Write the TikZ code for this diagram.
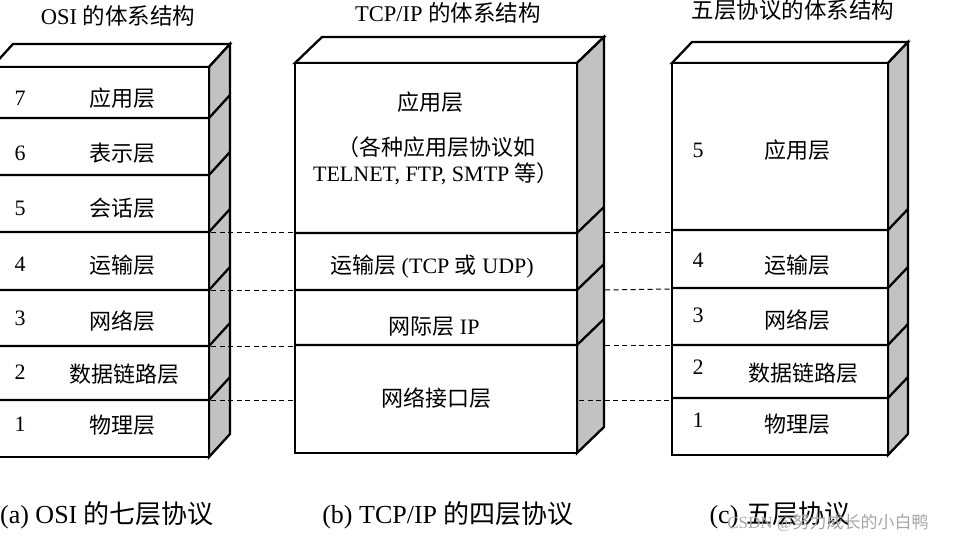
\documentclass[tikz,border=0pt]{standalone}
\usepackage{fontspec}
\setmainfont{Liberation Serif}
\newfontfamily\cjk{Noto Sans CJK SC}
\newcommand{\zh}[1]{{\cjk #1}}
% L R dx dy top bottom {boundaries}
\newcommand{\layerstack}[7]{%
  \filldraw[stackline, fill=white] (#1,#5) -- (#1+#3,#5-#4) -- (#2+#3,#5-#4) -- (#2,#5) -- cycle;
  \filldraw[stackline, fill=sidegray] (#2,#5) -- (#2+#3,#5-#4) -- (#2+#3,#6-#4) -- (#2,#6) -- cycle;
  \filldraw[stackline, fill=white] (#1,#5) rectangle (#2,#6);
  \foreach \yy in {#7} {\draw[stackline] (#1,\yy) -- (#2,\yy) -- (#2+#3,\yy-#4);}
}
\definecolor{sidegray}{gray}{0.76}
\begin{document}
\begin{tikzpicture}[x=1pt,y=-1pt,
  stackline/.style={line width=2.3pt, line join=miter},
  dashline/.style={line width=1pt, dash pattern=on 5pt off 3.5pt},
  lab/.style={font=\fontsize{22}{25}\selectfont, inner sep=0pt},
  ttl/.style={font=\fontsize{22.5}{25}\selectfont, inner sep=0pt},
  captxt/.style={font=\fontsize{26}{29}\selectfont, inner sep=0pt},
  wm/.style={font=\fontsize{17}{20}\selectfont, text=gray!70, inner sep=0pt}]
\useasboundingbox (0,0) rectangle (958,543);
\clip (0,0) rectangle (958,543);

% titles
\node[ttl] (t1) at (118,16) {OSI \zh{的体系结构}};
\node[ttl] (t2) at (448,13) {TCP/IP \zh{的体系结构}};
\node[ttl] (t3) at (793,10) {\zh{五层协议的体系结构}};

% stacks
\layerstack{-8}{209}{21}{23}{67}{457}{118,175,232,290,346,400}
\layerstack{295}{577}{27}{26}{63}{453}{233,290,345}
\layerstack{672}{888}{20}{21}{63}{455}{230,288,345,398}

% dashed connectors
\coordinate (a4) at (211,232); \coordinate (b4l) at (295,232);
\coordinate (a3) at (211,290); \coordinate (b3l) at (295,290);
\coordinate (a2) at (211,346); \coordinate (b2l) at (295,346);
\coordinate (a1) at (211,400); \coordinate (b1l) at (295,400);
\coordinate (b4r) at (605,232); \coordinate (c4) at (672,232);
\coordinate (b3r) at (605,290); \coordinate (c3) at (672,289);
\coordinate (b2r) at (605,345); \coordinate (c2) at (672,345);
\coordinate (b1r) at (579,400); \coordinate (c1) at (672,400);
\foreach \p/\q in {a4/b4l,a3/b3l,a2/b2l,a1/b1l,b4r/c4,b3r/c3,b2r/c2,b1r/c1}
  {\draw[dashline] (\p) -- (\q);}

% OSI labels
\node[lab] (o7n) at (20,98) {7};  \node[lab] (o7) at (122,98) {\zh{应用层}};
\node[lab] (o6n) at (20,153) {6}; \node[lab] (o6) at (122,153) {\zh{表示层}};
\node[lab] (o5n) at (20,208) {5}; \node[lab] (o5) at (122,208) {\zh{会话层}};
\node[lab] (o4n) at (20,264) {4}; \node[lab] (o4) at (122,265) {\zh{运输层}};
\node[lab] (o3n) at (20,318) {3}; \node[lab] (o3) at (122,321) {\zh{网络层}};
\node[lab] (o2n) at (20,372) {2}; \node[lab] (o2) at (124,374) {\zh{数据链路层}};
\node[lab] (o1n) at (20,424) {1}; \node[lab] (o1) at (122,425) {\zh{物理层}};

% TCP/IP labels
\node[lab] (p4) at (430,102) {\zh{应用层}};
\node[lab, align=center] (p4b) at (436,161) {\zh{（各种应用层协议如}\\[1pt]TELNET, FTP, SMTP \zh{等）}};
\node[lab] (p3) at (432,267) {\zh{运输层} (TCP \zh{或} UDP)};
\node[lab] (p2) at (434,327) {\zh{网际层} IP};
\node[lab] (p1) at (436,398) {\zh{网络接口层}};

% five-layer labels
\node[lab] (f5n) at (698,150) {5}; \node[lab] (f5) at (797,150) {\zh{应用层}};
\node[lab] (f4n) at (698,260) {4}; \node[lab] (f4) at (797,265) {\zh{运输层}};
\node[lab] (f3n) at (698,315) {3}; \node[lab] (f3) at (797,320) {\zh{网络层}};
\node[lab] (f2n) at (698,367) {2}; \node[lab] (f2) at (803,373) {\zh{数据链路层}};
\node[lab] (f1n) at (698,420) {1}; \node[lab] (f1) at (797,424) {\zh{物理层}};

% captions
\node[captxt] (c_a) at (107,515) {(a) OSI \zh{的七层协议}};
\node[captxt] (c_b) at (448,515) {(b) TCP/IP \zh{的四层协议}};
\node[captxt] (c_c) at (780,515) {(c)\hspace{8pt}\zh{五层协议}};
\node[wm] (wmk) at (828,523) {CSDN @\zh{努力成长的小白鸭}};
\end{tikzpicture}
\end{document}
